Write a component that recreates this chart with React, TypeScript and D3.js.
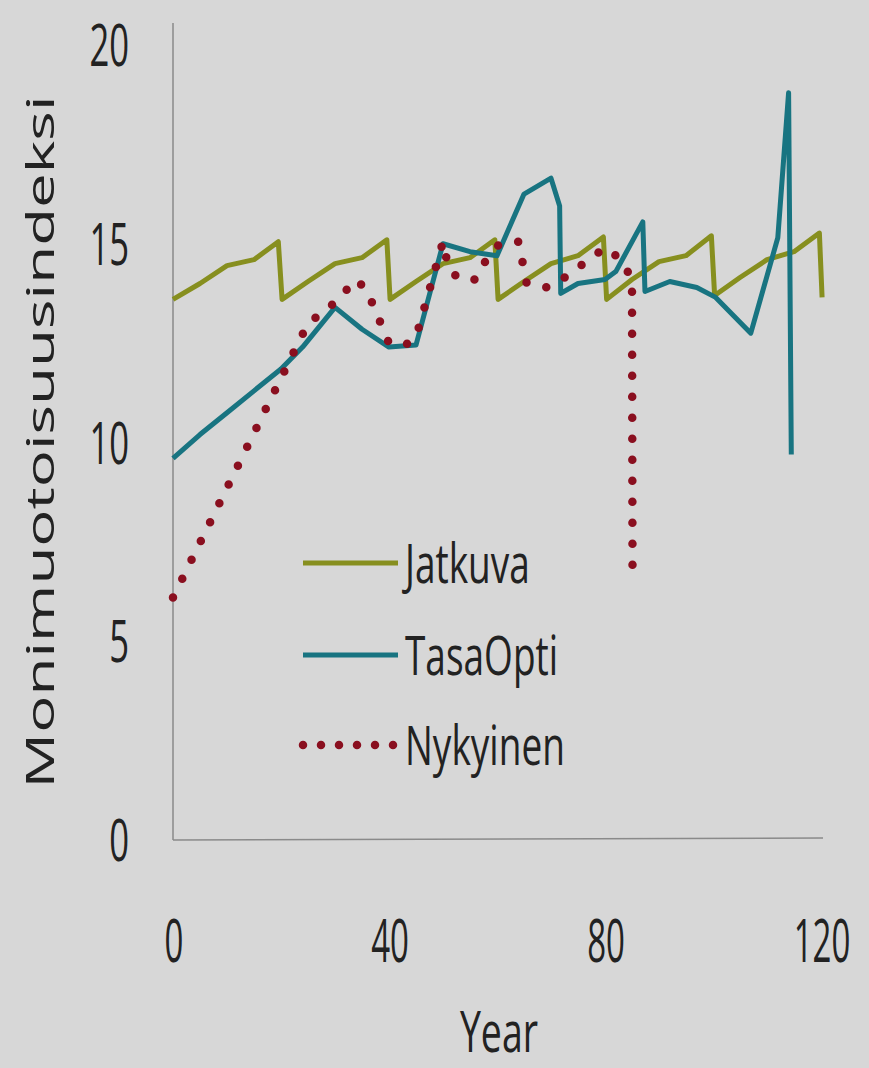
import React, { useEffect, useRef } from 'react';
import * as d3 from 'd3';

// Jatkuva: sawtooth, resets every 20 years
const jatkuvaYears = [0, 5, 10, 15, 19.5, 20.2, 25, 30, 35, 39.6, 40.2, 45, 50, 55, 59.6, 60.2, 65, 70, 75, 79.7, 80.3, 85, 90, 95, 99.7, 100.3, 105, 110, 115, 119.7, 120.2];
const jatkuvaValues = [13.6, 14.0, 14.45, 14.6, 15.05, 13.6, 14.05, 14.5, 14.65, 15.1, 13.6, 14.05, 14.5, 14.65, 15.1, 13.6, 14.05, 14.5, 14.7, 15.17, 13.6, 14.1, 14.55, 14.7, 15.2, 13.7, 14.15, 14.6, 14.8, 15.27, 13.65];

const tasaYears = [0, 5, 10, 15, 20, 24, 30, 35, 40, 45, 50, 55, 60, 65, 70, 71.6, 71.8, 75, 80, 82, 87, 87.4, 92, 97, 100.5, 107, 112, 114, 114.5];
const tasaValues = [9.6, 10.2, 10.75, 11.3, 11.85, 12.4, 13.4, 12.85, 12.4, 12.45, 15.0, 14.8, 14.7, 16.25, 16.65, 15.95, 13.75, 14.0, 14.1, 14.3, 15.55, 13.8, 14.05, 13.9, 13.65, 12.75, 15.15, 18.8, 9.7];

const nykyYears = [0, 25, 29, 34, 36, 40, 43, 45, 50, 51, 53, 56, 58, 60.5, 64, 65.5, 69, 71, 80, 83, 85, 85.1];
const nykyValues = [6.1, 13.0, 13.4, 14.1, 13.8, 12.5, 12.45, 12.65, 15.05, 14.4, 14.1, 14.1, 14.6, 15.0, 15.05, 14.0, 13.9, 14.0, 14.9, 14.6, 14.1, 6.4];

const yTicks = [0, 5, 10, 15, 20];
const xTicks = [0, 40, 80, 120];
const seriesNames = ['Jatkuva', 'TasaOpti', 'Nykyinen'];
const seriesColors = ['#878f1f', '#187481', '#8a0f1f'];

const FONT = "'Open Sans', sans-serif";

const App: React.FC = () => {
  const svgRef = useRef<SVGSVGElement>(null);
  const width = 869;
  const height = 1068;

  useEffect(() => {
    const svg = d3.select(svgRef.current);
    svg.selectAll('*').remove();

    svg.append('rect').attr('width', width).attr('height', height).attr('fill', '#d7d7d7');

    const x = d3.scaleLinear().domain([0, 120]).range([173, 821]);
    const y = d3.scaleLinear().domain([0, 20]).range([840, 45]);

    // axes lines
    svg.append('line')
      .attr('x1', x(0)).attr('x2', x(0)).attr('y1', 23).attr('y2', y(0))
      .attr('stroke', '#8a8a8a').attr('stroke-width', 1.5);
    svg.append('line')
      .attr('x1', x(0)).attr('x2', x(120) + 2).attr('y1', y(0)).attr('y2', y(0) - 2)
      .attr('stroke', '#8a8a8a').attr('stroke-width', 1.5);

    // y tick labels
    svg.selectAll('.ytick')
      .data(yTicks)
      .enter()
      .append('text')
      .attr('class', 'ytick')
      .attr('transform', (d) => `translate(129,${y(d)}) scale(1.05,1.8)`)
      .attr('y', 0.357 * 33)
      .attr('text-anchor', 'end')
      .attr('font-family', FONT)
      .attr('font-size', 33)
      .attr('fill', '#222')
      .text((d) => d);

    // x tick labels
    svg.selectAll('.xtick')
      .data(xTicks)
      .enter()
      .append('text')
      .attr('class', 'xtick')
      .attr('transform', (d) => `translate(${x(d) + 1},940) scale(1,1.85)`)
      .attr('y', 0.357 * 33)
      .attr('text-anchor', 'middle')
      .attr('font-family', FONT)
      .attr('font-size', 33)
      .attr('fill', '#222')
      .text((d) => d);

    svg.append('text')
      .attr('transform', 'translate(499,1032) scale(1,1.5)')
      .attr('y', 0.357 * 37.5)
      .attr('text-anchor', 'middle')
      .attr('font-family', FONT)
      .attr('font-size', 37.5)
      .attr('fill', '#222')
      .text('Year');

    svg.append('text')
      .attr('transform', 'translate(40,442) rotate(-90) scale(1.63,1)')
      .attr('y', 0.357 * 38)
      .attr('text-anchor', 'middle')
      .attr('font-family', FONT)
      .attr('font-size', 38)
      .attr('fill', '#222')
      .text('Monimuotoisuusindeksi');

    const line = d3
      .line<[number, number]>()
      .x((d) => x(d[0]))
      .y((d) => y(d[1]));

    const jatkuva = jatkuvaYears.map((t, i) => [t, jatkuvaValues[i]] as [number, number]);
    const tasa = tasaYears.map((t, i) => [t, tasaValues[i]] as [number, number]);
    const nyky = nykyYears.map((t, i) => [t, nykyValues[i]] as [number, number]);

    svg.append('path').datum(jatkuva).attr('d', line)
      .attr('fill', 'none').attr('stroke', seriesColors[0]).attr('stroke-width', 5)
      .attr('stroke-linejoin', 'round');
    svg.append('path').datum(tasa).attr('d', line)
      .attr('fill', 'none').attr('stroke', seriesColors[1]).attr('stroke-width', 5)
      .attr('stroke-linejoin', 'round');
    svg.append('path').datum(nyky).attr('d', line)
      .attr('fill', 'none').attr('stroke', seriesColors[2]).attr('stroke-width', 8.5)
      .attr('stroke-linecap', 'round').attr('stroke-dasharray', '0 21');

    // legend
    const legendY = [563, 655, 745];
    seriesNames.forEach((name, i) => {
      const g = svg.append('g');
      const l = g.append('line')
        .attr('x1', 303).attr('x2', i === 2 ? 395 : 398)
        .attr('y1', legendY[i]).attr('y2', legendY[i])
        .attr('stroke', seriesColors[i]);
      if (i === 2) {
        l.attr('stroke-width', 8.5).attr('stroke-linecap', 'round').attr('stroke-dasharray', '0 18');
      } else {
        l.attr('stroke-width', 5);
      }
      g.append('text')
        .attr('transform', `translate(405,${legendY[i]}) scale(1,1.5)`)
        .attr('y', 0.357 * 37)
        .attr('font-family', FONT)
        .attr('font-size', 37)
        .attr('fill', '#222')
        .text(name);
    });
  }, []);

  return (
    <svg
      ref={svgRef}
      width={width}
      height={height}
      style={{ position: 'absolute', left: 0, top: 0 }}
    />
  );
};

export default App;
